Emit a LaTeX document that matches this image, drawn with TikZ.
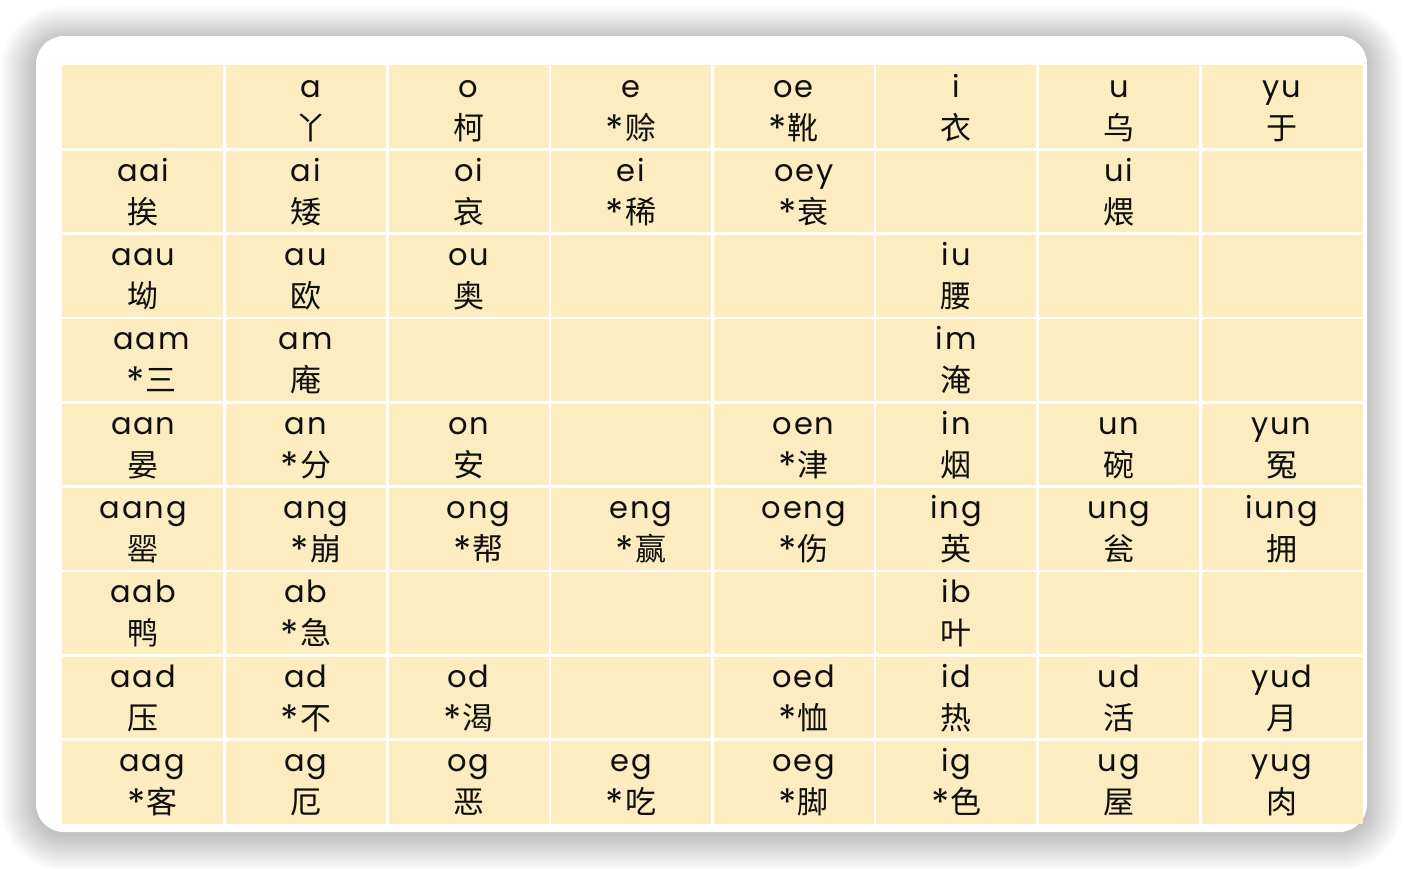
\documentclass[tikz,border=0pt]{standalone}
\usepackage{fontspec}
\usepackage{graphicx}
\setmainfont{Poppins}
\newfontfamily\latf[LetterSpace=6]{Poppins}
\newfontfamily\cjk{Noto Sans CJK SC}
\definecolor{cellyellow}{RGB}{253,236,192}
\definecolor{inkblack}{RGB}{15,15,15}
\newcommand\stx{{\rmfamily\fontsize{29}{29}\selectfont\raisebox{-3pt}{\scalebox{1.3}{*}}\hspace{1pt}}}
\newcommand\cellpair[6]{%
  \node[lat] (l#1) at ({62+162.6*(#2-0.5)+#6},{65+84.33*(#3-1)+32}) {#4};
  \node[han] (h#1) at ({62+162.6*(#2-0.5)+#6},{65+84.33*(#3-1)+74}) {#5};
}
\tikzset{
  lat/.style={anchor=base, inner sep=0pt, text=inkblack, font=\latf\fontsize{30.5}{30.5}\selectfont},
  han/.style={anchor=base, inner sep=0pt, text=inkblack, font=\cjk\fontsize{31}{31}\selectfont},
  gridline/.style={white, line width=2.6pt}
}
\begin{document}
\begin{tikzpicture}[x=1pt,y=-1pt]
\useasboundingbox (0,0) rectangle (1404,868);
\fill[white] (0,0) rectangle (1404,868);
% shadow
\foreach \i in {1,...,30}{
  \fill[black, opacity=0.008, rounded corners={28+\i*1.2}]
    ({36-\i*1.2},{36-\i*1.1+3}) rectangle ({1367+\i*1.2},{832+\i*1.2+3});
}
% card
\fill[white, rounded corners=28] (36,36) rectangle (1367,832);
% table
\fill[cellyellow] (62,65) rectangle (1363,824);
\foreach \c in {1,...,7}{
  \draw[gridline] ({62+162.6*\c},65) -- ({62+162.6*\c},824);
}
\foreach \r in {1,...,8}{
  \draw[gridline] (62,{65+84.33*\r}) -- (1363,{65+84.33*\r});
}
% row 1
\cellpair{21}{2}{1}{a}{丫}{5}
\cellpair{31}{3}{1}{o}{柯}{0}
\cellpair{41}{4}{1}{e}{\stx 赊}{0}
\cellpair{51}{5}{1}{oe}{\stx 靴}{0}
\cellpair{61}{6}{1}{i}{衣}{0}
\cellpair{71}{7}{1}{u}{乌}{0}
\cellpair{81}{8}{1}{yu}{于}{0}
% row 2
\cellpair{12}{1}{2}{aai}{挨}{0}
\cellpair{22}{2}{2}{ai}{矮}{0}
\cellpair{32}{3}{2}{oi}{哀}{0}
\cellpair{42}{4}{2}{ei}{\stx 稀}{0}
\cellpair{52}{5}{2}{oey}{\stx 衰}{10}
\cellpair{72}{7}{2}{ui}{煨}{0}
% row 3
\cellpair{13}{1}{3}{aau}{坳}{0}
\cellpair{23}{2}{3}{au}{欧}{0}
\cellpair{33}{3}{3}{ou}{奥}{0}
\cellpair{63}{6}{3}{iu}{腰}{0}
% row 4
\cellpair{14}{1}{4}{aam}{\stx 三}{8}
\cellpair{24}{2}{4}{am}{庵}{0}
\cellpair{64}{6}{4}{im}{淹}{0}
% row 5
\cellpair{15}{1}{5}{aan}{晏}{0}
\cellpair{25}{2}{5}{an}{\stx 分}{0}
\cellpair{35}{3}{5}{on}{安}{0}
\cellpair{55}{5}{5}{oen}{\stx 津}{10}
\cellpair{65}{6}{5}{in}{烟}{0}
\cellpair{75}{7}{5}{un}{碗}{0}
\cellpair{85}{8}{5}{yun}{冤}{0}
% row 6
\cellpair{16}{1}{6}{aang}{罂}{0}
\cellpair{26}{2}{6}{ang}{\stx 崩}{10}
\cellpair{36}{3}{6}{ong}{\stx 帮}{10}
\cellpair{46}{4}{6}{eng}{\stx 赢}{10}
\cellpair{56}{5}{6}{oeng}{\stx 伤}{10}
\cellpair{66}{6}{6}{ing}{英}{0}
\cellpair{76}{7}{6}{ung}{瓮}{0}
\cellpair{86}{8}{6}{iung}{拥}{0}
% row 7
\cellpair{17}{1}{7}{aab}{鸭}{0}
\cellpair{27}{2}{7}{ab}{\stx 急}{0}
\cellpair{67}{6}{7}{ib}{叶}{0}
% row 8
\cellpair{18}{1}{8}{aad}{压}{0}
\cellpair{28}{2}{8}{ad}{\stx 不}{0}
\cellpair{38}{3}{8}{od}{\stx 渴}{0}
\cellpair{58}{5}{8}{oed}{\stx 恤}{10}
\cellpair{68}{6}{8}{id}{热}{0}
\cellpair{78}{7}{8}{ud}{活}{0}
\cellpair{88}{8}{8}{yud}{月}{0}
% row 9
\cellpair{19}{1}{9}{aag}{\stx 客}{9}
\cellpair{29}{2}{9}{ag}{厄}{0}
\cellpair{39}{3}{9}{og}{恶}{0}
\cellpair{49}{4}{9}{eg}{\stx 吃}{0}
\cellpair{59}{5}{9}{oeg}{\stx 脚}{10}
\cellpair{69}{6}{9}{ig}{\stx 色}{0}
\cellpair{79}{7}{9}{ug}{屋}{0}
\cellpair{89}{8}{9}{yug}{肉}{0}
\end{tikzpicture}
\end{document}
